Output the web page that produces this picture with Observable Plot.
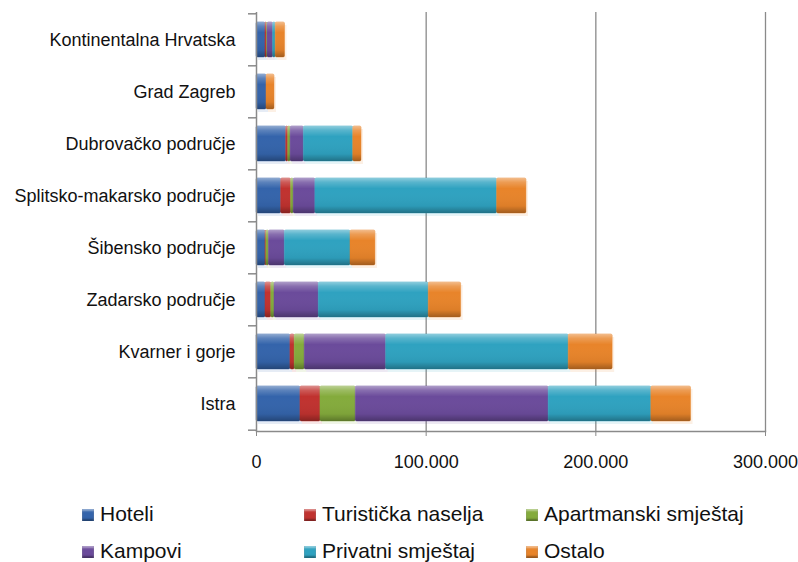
<!DOCTYPE html>
<html>
<head>
<meta charset="utf-8">
<script src="https://cdn.jsdelivr.net/npm/d3@7"></script>
<script src="https://cdn.jsdelivr.net/npm/@observablehq/plot@0.6"></script>
<style>
  body { margin: 0; background: #fff; width: 798px; height: 562px; overflow: hidden; position: relative; }
  #chart { position: absolute; left: 0; top: 0; }
  .leg { position: absolute; font-family: "Liberation Sans", Arial, sans-serif; font-size: 21px; color: #111; white-space: nowrap; line-height: 24px; }
  .sw { display: inline-block; width: 12px; height: 12px; margin-right: 6px; vertical-align: 0px; box-shadow: inset 0 2px 2px rgba(255,255,255,0.45), inset 0 -2px 2px rgba(0,0,0,0.35); }
</style>
</head>
<body>
<div id="chart"></div>
<div id="legend"></div>
<script>
const categories = ["Kontinentalna Hrvatska", "Grad Zagreb", "Dubrovačko područje", "Splitsko-makarsko područje", "Šibensko područje", "Zadarsko područje", "Kvarner i gorje", "Istra"];
const seriesNames = ["Hoteli", "Turistička naselja", "Apartmanski smještaj", "Kampovi", "Privatni smještaj", "Ostalo"];
const seriesColors = ["#3464ab", "#c0322f", "#84ab3c", "#6b4b9b", "#2fa2c0", "#e8842a"];
const hoteli   = [5300, 5900, 17500, 14500, 5300, 5300, 20000, 25900];
const turist   = [800, 0, 1200, 5900, 500, 3400, 2500, 11800];
const apart    = [400, 0, 1400, 1500, 1500, 1900, 5900, 20800];
const kampovi  = [3300, 0, 7800, 12800, 9400, 26100, 48000, 113700];
const privatni = [1500, 0, 29100, 107100, 38700, 64800, 107600, 60500];
const ostalo   = [5500, 4700, 4900, 17300, 14700, 19100, 25900, 23400];
const xTicks = [0, 100000, 200000, 300000];

const seriesValues = [hoteli, turist, apart, kampovi, privatni, ostalo];
const data = [];
seriesNames.forEach((s, i) => {
  categories.forEach((c, j) => data.push({ region: c, series: s, value: seriesValues[i][j] }));
});

const fmt = d => d3.format(",")(d).replace(/,/g, ".");

const W = 798, H = 480, MT = 12, MB = 49;
const step = (H - MT - MB) / categories.length;
const tickLenValue = 8 / ((W - 256 - 33) / 300000);

const chart = Plot.plot({
  width: W,
  height: H,
  marginLeft: 256,
  marginRight: 33,
  marginTop: MT,
  marginBottom: MB,
  style: { fontFamily: "Liberation Sans, Arial, sans-serif", fontSize: "18px", color: "#111", background: "#fff", overflow: "visible" },
  x: { domain: [0, 300000], ticks: xTicks, tickFormat: fmt, label: null },
  y: { domain: categories, paddingInner: 0.33, paddingOuter: 0.165, label: null },
  color: { domain: seriesNames, range: seriesColors },
  marks: [
    Plot.ruleX(xTicks.slice(1), { stroke: "#8a8a8a", strokeWidth: 1.3 }),
    Plot.barX(data, Plot.stackX({ x: "value", y: "region", fill: "series", dx: 2, dy: 3, fillOpacity: 0.12 })),
    Plot.barX(data, Plot.stackX({ x: "value", y: "region", fill: "series", stroke: "series", strokeOpacity: 0.6, strokeWidth: 0.8, rx: 1.5 })),
    Plot.barX(data, Plot.stackX({ x: "value", y: "region", fill: "url(#shine)", rx: 1.5 })),
    Plot.ruleX([0], { stroke: "#8a8a8a", strokeWidth: 1.5 }),
    Plot.ruleY(categories, { y: d => d, x1: -tickLenValue, x2: 0, dy: -step / 2, stroke: "#8a8a8a", strokeWidth: 1.5, clip: false }),
    Plot.ruleY(categories.slice(-1), { y: d => d, x1: -tickLenValue, x2: 0, dy: step / 2, stroke: "#8a8a8a", strokeWidth: 1.5, clip: false }),
    Plot.frame({ anchor: "bottom", stroke: "#8a8a8a", strokeWidth: 1.5 }),
    Plot.axisX({ ticks: xTicks, tickFormat: fmt, tickSize: 5, tickPadding: 19, stroke: "#8a8a8a", fontSize: 18, label: null }),
    Plot.axisY({ tickSize: 0, tickPadding: 21, fontSize: 18, label: null })
  ]
});

const ns = "http://www.w3.org/2000/svg";
const defs = document.createElementNS(ns, "defs");
defs.innerHTML = `<linearGradient id="shine" x1="0" y1="0" x2="0" y2="1">
  <stop offset="0" stop-color="#fff" stop-opacity="0.45"/>
  <stop offset="0.12" stop-color="#fff" stop-opacity="0.2"/>
  <stop offset="0.3" stop-color="#fff" stop-opacity="0"/>
  <stop offset="0.8" stop-color="#000" stop-opacity="0.05"/>
  <stop offset="1" stop-color="#000" stop-opacity="0.3"/>
</linearGradient>`;
chart.insertBefore(defs, chart.firstChild);
document.getElementById("chart").appendChild(chart);

const legend = document.getElementById("legend");
const cols = [82, 304, 526];
const rows = [502, 539];
seriesNames.forEach((s, i) => {
  const d = document.createElement("div");
  d.className = "leg";
  d.style.left = cols[i % 3] + "px";
  d.style.top = rows[Math.floor(i / 3)] + "px";
  d.innerHTML = `<span class="sw" style="background:${seriesColors[i]}"></span>${s}`;
  legend.appendChild(d);
});
</script>
</body>
</html>
